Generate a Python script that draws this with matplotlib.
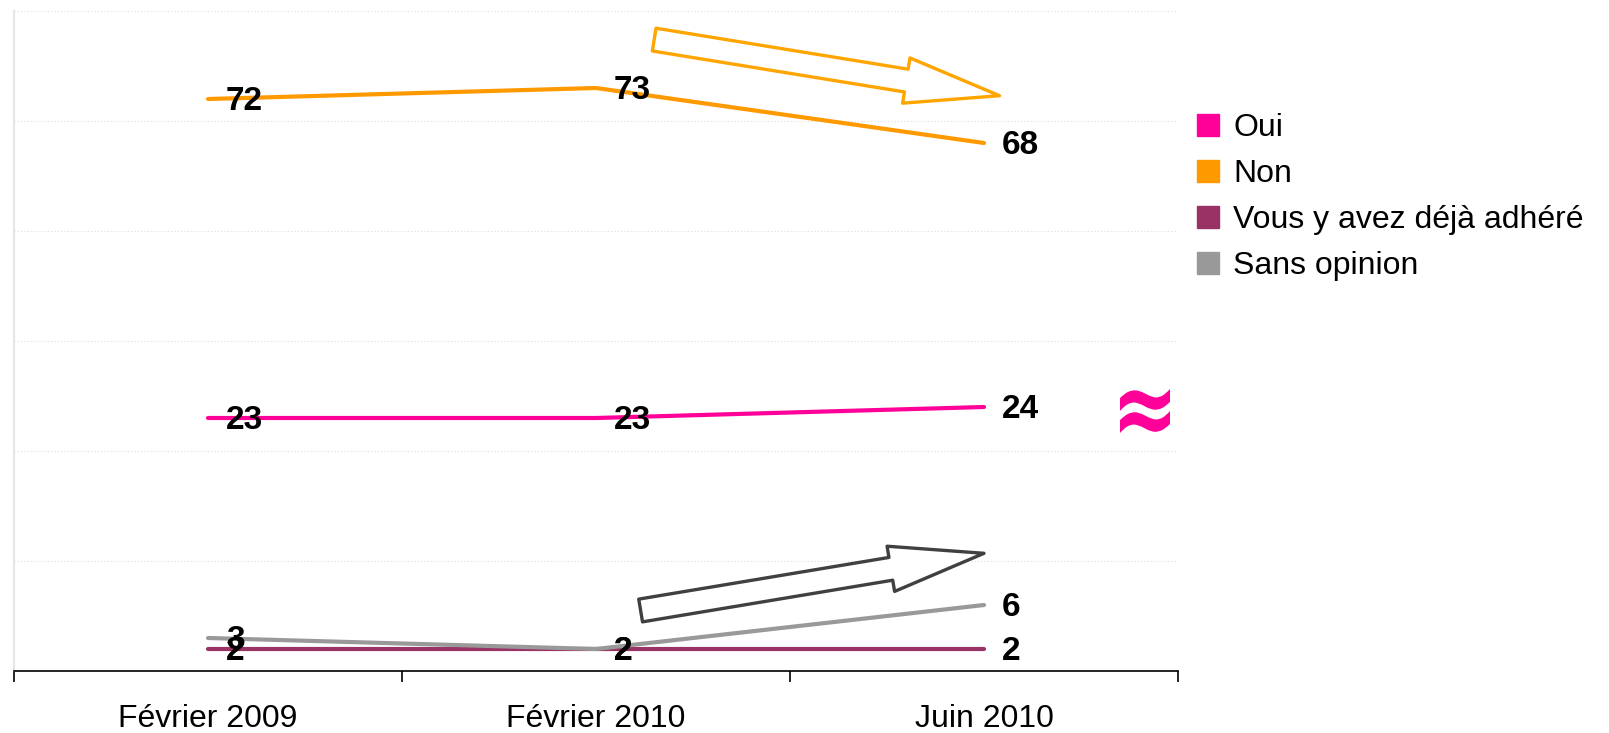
import matplotlib
matplotlib.use("Agg")
import matplotlib.pyplot as plt
from matplotlib.lines import Line2D
from matplotlib.textpath import TextPath
from matplotlib.patches import PathPatch
from matplotlib.font_manager import FontProperties
from matplotlib.transforms import Affine2D

# data
periods = ["Février 2009", "Février 2010", "Juin 2010"]
oui = [23, 23, 24]
non = [72, 73, 68]
deja = [2, 2, 2]
sans = [3, 2, 6]

series_names = ["Oui", "Non", "Vous y avez déjà adhéré", "Sans opinion"]
colors = ["#FF0099", "#FF9900", "#993366", "#999999"]

# the "Non" curve is drawn on a cut axis (the pink ≈ sign), shifted down
NON_SHIFT = 20

plt.rcParams['font.family'] = ['Liberation Sans', 'DejaVu Sans']

fig = plt.figure(figsize=(16.09, 7.33), dpi=100)
ax = fig.add_axes([14/1609, 62/733, 1164/1609, 660/733])

x = list(range(len(periods)))
plotted = [oui, [v - NON_SHIFT for v in non], deja, sans]
real = [oui, non, deja, sans]
zorders = [3, 3, 2, 3]

for yv, col, zo in zip(plotted, colors, zorders):
    ax.plot(x, yv, color=col, lw=3, solid_capstyle="round", zorder=zo)

for yv, rv in zip(plotted, real):
    for xi, (yp, r) in enumerate(zip(yv, rv)):
        ax.annotate(str(r), (xi, yp), xytext=(13, -2), textcoords="offset points",
                    ha="left", va="center", fontsize=24, fontweight="bold",
                    color="black", zorder=5)

# trend arrows
style = "simple,head_length=6.8,head_width=3.3,tail_width=1.66"
ax.annotate("", xy=(2.04, 72.3 - NON_SHIFT), xytext=(1.15, 77.4 - NON_SHIFT),
            arrowprops=dict(arrowstyle=style, mutation_scale=10, fc="white",
                            ec="#FFA500", lw=2.4, shrinkA=0, shrinkB=0))
ax.annotate("", xy=(2.0, 10.7), xytext=(1.115, 5.5),
            arrowprops=dict(arrowstyle=style, mutation_scale=10, fc="white",
                            ec="#404040", lw=2.4, shrinkA=0, shrinkB=0))

ax.set_xlim(-0.5, 2.5)
ax.set_ylim(0, 60)
ax.set_yticks(range(10, 61, 10))
ax.set_yticklabels([])
ax.tick_params(axis="y", length=0)
ax.grid(axis="y", color="#dddddd", ls=(0, (1, 2)), lw=0.8)
ax.set_axisbelow(True)

ax.set_xticks([-0.5, 0.5, 1.5, 2.5])
ax.set_xticklabels([])
ax.set_xticks(x, minor=True)
ax.set_xticklabels(periods, minor=True, fontsize=23)
ax.tick_params(axis="x", which="major", direction="out", length=8, width=1.2)
ax.tick_params(axis="x", which="minor", length=0, pad=24)

for s in ["top", "right"]:
    ax.spines[s].set_visible(False)
ax.spines["left"].set_color("#e6e6e6")
ax.spines["left"].set_linewidth(1.5)
ax.spines["bottom"].set_linewidth(1.2)

handles = [Line2D([], [], ls="none", marker="s", markersize=16, color=c) for c in colors]
fig.legend(handles, series_names, loc="upper left", bbox_to_anchor=(1182/1609, 1 - 100/733),
           frameon=False, fontsize=23, handlelength=0.8, handletextpad=0.4,
           labelspacing=0.5, borderaxespad=0)

# pink "≈" cut sign, stretched to the reference proportions (pixels)
tp = TextPath((0, 0), "≈", size=50, prop=FontProperties(family="DejaVu Sans", weight="bold"))
ext = tp.get_extents()
w, h = 50, 44
cx, cy = 1145, 733 - 411
tr = Affine2D().translate(-ext.x0, -ext.y0).scale(w / ext.width, h / ext.height) \
    .translate(cx - w / 2, cy - h / 2)
fig.patches.append(PathPatch(tr.transform_path(tp), transform=None,
                             color="#FF0099", lw=0, figure=fig))

fig.savefig("out.png", dpi=100)
